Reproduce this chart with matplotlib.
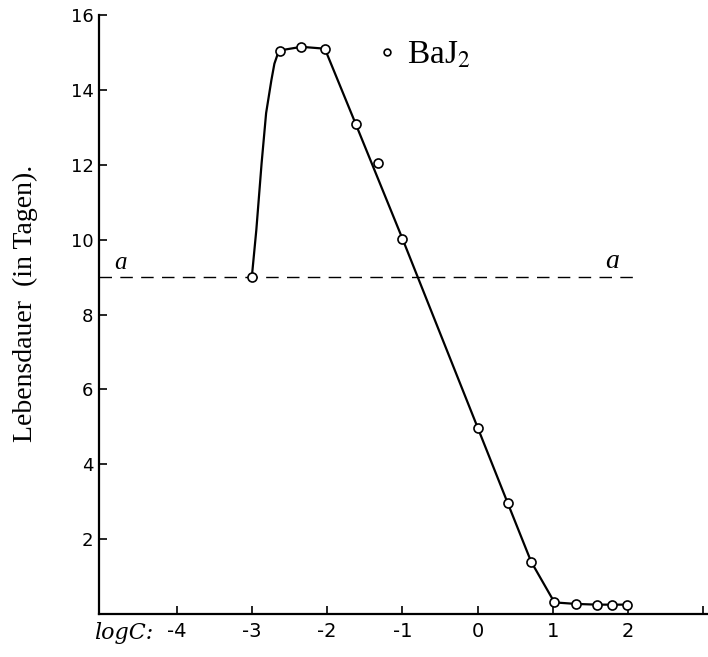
import numpy as np
import matplotlib
matplotlib.use('Agg')
import matplotlib.pyplot as plt

plt.rcParams['mathtext.fontset'] = 'stix'

# measured points (logC, Lebensdauer in Tagen)
logc = [-3.0, -2.63, -2.34, -2.03, -1.62, -1.32, -1.0, 0.0, 0.40, 0.71, 1.02, 1.30, 1.58, 1.79, 1.98]
days = [9.0, 15.05, 15.15, 15.1, 13.09, 12.04, 10.03, 4.98, 2.96, 1.40, 0.31, 0.27, 0.25, 0.25, 0.25]

# hand drawn curve through the points
curve_x = [-3.0, -2.94, -2.87, -2.81, -2.74, -2.70, -2.64, -2.34, -2.03, -1.62, -1.0, 0.0, 0.40, 0.71, 1.02, 1.30, 1.58, 1.98]
curve_y = [9.0, 10.26, 12.04, 13.38, 14.26, 14.7, 15.05, 15.15, 15.1, 13.09, 10.03, 4.98, 2.96, 1.40, 0.31, 0.27, 0.25, 0.25]

# control level a
a_level = 9.0
a_x = [-5.03, 2.15]

xticks = [-4, -3, -2, -1, 0, 1, 2, 3]
xticklabels = ['-4', '-3', '-2', '-1', '0', '1', '2', '']
yticks = [2, 4, 6, 8, 10, 12, 14, 16]

fig = plt.figure(figsize=(7.08, 6.57), dpi=100)
ax = fig.add_axes([99/708, 43/657, 609/708, 599/657])

ax.plot(a_x, [a_level, a_level], color='black', lw=1.0, dashes=(9, 6))
ax.plot(curve_x, curve_y, color='black', lw=1.6, solid_joinstyle='round', solid_capstyle='round')
ax.plot(logc, days, 'o', ms=6.5, mfc='white', mec='black', mew=1.2, ls='none', label='BaJ$_2$')

ax.text(-4.74, 9.08, 'a', fontsize=18, family='Liberation Serif', style='italic', va='bottom', ha='center')
ax.text(1.78, 9.08, 'a', fontsize=20, family='Liberation Serif', style='italic', va='bottom', ha='center')

ax.set_xlim(-5.03, 3.06)
ax.set_ylim(0, 16)
for s in ['top', 'right']:
    ax.spines[s].set_visible(False)
for s in ['left', 'bottom']:
    ax.spines[s].set_linewidth(1.6)

ax.set_xticks(xticks)
ax.set_xticklabels(xticklabels)
ax.set_yticks(yticks)
ax.tick_params(direction='in', length=6, width=1.2, labelsize=14, pad=6)
ax.tick_params(axis='y', pad=4, labelsize=13)

ax.text(-5.09, -0.5, 'logC:', fontsize=16, style='italic', family='DejaVu Serif', ha='left', va='center')

ax.set_ylabel('Lebensdauer  (in Tagen).', fontsize=20, family='Liberation Serif')
ax.yaxis.set_label_coords(-0.100, 0.519)

ax.legend(loc='center left', bbox_to_anchor=(0.457, 0.933), frameon=False, handlelength=0.6,
          handletextpad=0.3, borderpad=0, borderaxespad=0, markerscale=0.75,
          prop={'family': 'Liberation Serif', 'size': 24})

fig.savefig('out.png', dpi=100)
